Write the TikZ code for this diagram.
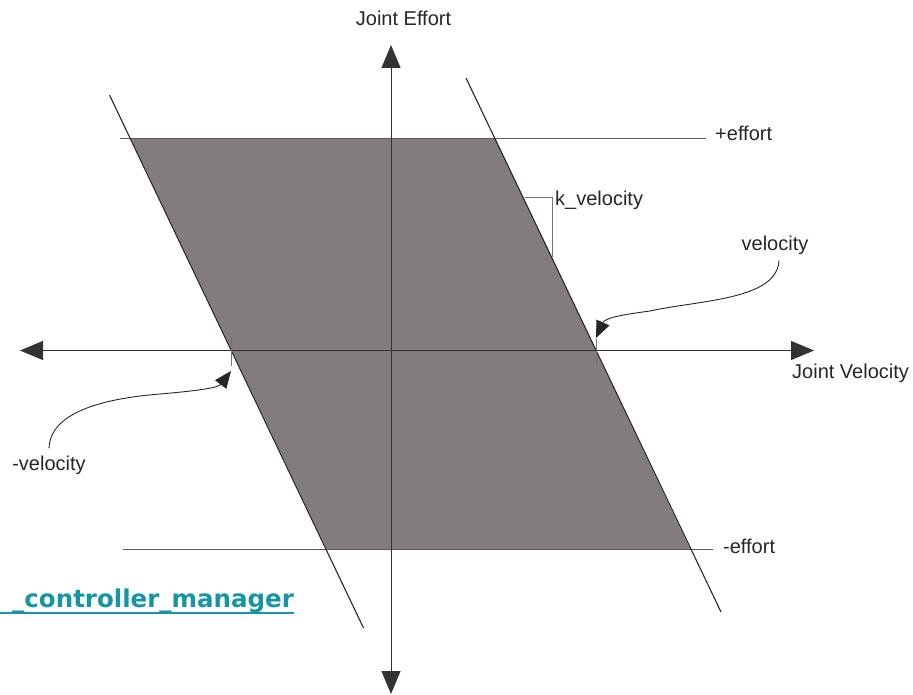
\documentclass[tikz,border=0pt]{standalone}
\usepackage{fontspec}
\setmainfont{Liberation Sans}
\newfontfamily\linkfont{DejaVu Sans}
\usetikzlibrary{arrows.meta}
\definecolor{regionfill}{RGB}{131,124,124}
\definecolor{linkteal}{RGB}{20,150,165}
\begin{document}
\begin{tikzpicture}[x=1pt,y=-1pt,
  axisline/.style={line width=1pt, draw=black!80,
    {Triangle[length=23pt,width=19pt]}-{Triangle[length=23pt,width=19pt]}},
  boundline/.style={line width=1.1pt, draw=black!85},
  effortline/.style={line width=0.9pt, draw=black!65},
  tickline/.style={line width=0.9pt, draw=black!55},
  callout/.style={line width=0.9pt, draw=black!85, -{Triangle[length=17pt,width=14pt]}},
  lbl/.style={inner sep=0pt, font=\fontsize{20}{24}\selectfont, text=black!85}]
\useasboundingbox (0,0) rectangle (913,695);

% admissible region
\coordinate (pTL) at (130.7,138.5);
\coordinate (pTR) at (495,138.5);
\coordinate (pBR) at (690.3,549.5);
\coordinate (pBL) at (326.7,549.5);
\fill[regionfill] (pTL) -- (pTR) -- (pBR) -- (pBL) -- cycle;

% effort limits
\coordinate (eTopL) at (120,138.5);
\coordinate (eTopR) at (706,138.5);
\coordinate (eBotL) at (123,549.5);
\coordinate (eBotR) at (713,549.5);
\draw[effortline] (eTopL) -- (eTopR);
\draw[effortline] (eBotL) -- (eBotR);

% velocity-dependent bounds
\coordinate (lTop) at (109.5,95);
\coordinate (lBot) at (363.5,628);
\coordinate (rTop) at (466,78);
\coordinate (rBot) at (721,612);
\draw[boundline] (lTop) -- (lBot);
\draw[boundline] (rTop) -- (rBot);

% axes
\coordinate (vTop) at (391,45);
\coordinate (vBot) at (391,694);
\coordinate (hLeft) at (20,350.5);
\coordinate (hRight) at (814,350.5);
\draw[axisline] (vBot) -- (vTop);
\draw[axisline] (hLeft) -- (hRight);

% velocity ticks
\coordinate (tlA) at (231.5,336);
\coordinate (tlB) at (231.5,366);
\coordinate (trA) at (596.5,339);
\coordinate (trB) at (596.5,366);
\draw[tickline] (tlA) -- (tlB);
\draw[tickline] (trA) -- (trB);

% slope bracket
\coordinate (kA) at (525,197);
\coordinate (kB) at (552,197);
\coordinate (kC) at (552,257);
\draw[tickline] (kA) -- (kB) -- (kC);

% labels
\node[lbl] (effAxis) at (403.5,18) {Joint Effort};
\node[lbl, anchor=west] (velAxis) at (792,373) {Joint Velocity};
\node[lbl, anchor=west] (plusEff) at (715,133) {+effort};
\node[lbl, anchor=west] (minusEff) at (723,546) {-effort};
\node[lbl, anchor=west] (kVel) at (555,200) {k\_velocity};
\node[lbl] (posVel) at (775,245) {velocity};
\node[lbl] (negVel) at (49,465) {-velocity};

% callouts
\coordinate (posTip) at (596,338);
\coordinate (negTip) at (231,371);
\draw[callout] (posVel.south) ++(4,6)
  .. controls (777,300) and (700,300) .. (650,311)
  .. controls (620,315) and (605,318) .. (posTip);
\draw[callout] (negVel.north) ++(0,-7)
  .. controls (50,410) and (110,398) .. (160,394)
  .. controls (195,391) and (218,388) .. (negTip);

% link text
\node[inner sep=0pt, anchor=base west, text=linkteal,
  font=\linkfont\bfseries\fontsize{24.5}{28}\selectfont] (link) at (12,607) {\_controller\_manager};
\draw[linkteal, line width=1.5pt] (0,613) -- (link.east |- 0,613);
\end{tikzpicture}
\end{document}
